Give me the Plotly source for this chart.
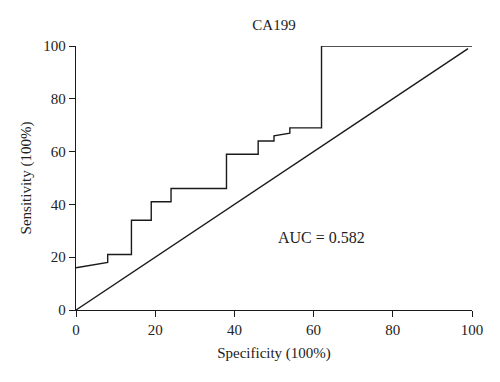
import plotly.graph_objects as go

# ROC step curve (specificity %, sensitivity %)
roc_x = [0, 8, 8, 14, 14, 19, 19, 24, 24, 38, 38, 46, 46, 50, 50, 54, 54, 62, 62, 100]
roc_y = [16, 18, 21, 21, 34, 34, 41, 41, 46, 46, 59, 59, 64, 64, 66, 67, 69, 69, 100, 100]
diag_x = [0, 99]
diag_y = [0, 99]
ticks = [0, 20, 40, 60, 80, 100]
auc_text = "AUC = 0.582"

font = dict(family="Liberation Serif, Times New Roman, serif", size=15, color="#222")

fig = go.Figure()
fig.add_trace(go.Scatter(x=roc_x, y=roc_y, mode="lines",
                         line=dict(color="#1a1a1a", width=1.4), showlegend=False))
fig.add_trace(go.Scatter(x=diag_x, y=diag_y, mode="lines",
                         line=dict(color="#1a1a1a", width=1.4), showlegend=False))
fig.add_annotation(x=62, y=27.5, text=auc_text, showarrow=False, font=dict(font, size=16))

axis_common = dict(range=[0, 100], tickvals=ticks, showgrid=False, zeroline=False,
                   showline=True, linecolor="#1a1a1a", linewidth=1.4,
                   ticks="outside", ticklen=6, tickwidth=1.4, tickcolor="#1a1a1a",
                   tickfont=font)
fig.update_xaxes(**axis_common, title=dict(text="Specificity (100%)", font=font, standoff=10))
fig.update_yaxes(**axis_common, title=dict(text="Sensitivity (100%)", font=font, standoff=8))

fig.update_layout(
    width=492, height=374,
    margin=dict(l=68, r=28, t=38, b=72),
    paper_bgcolor="white", plot_bgcolor="white",
    title=dict(text="CA199", x=0.5407, xanchor="center", y=0.9545, yanchor="middle", font=font),
    font=font,
)
fig.write_html("out.html")
